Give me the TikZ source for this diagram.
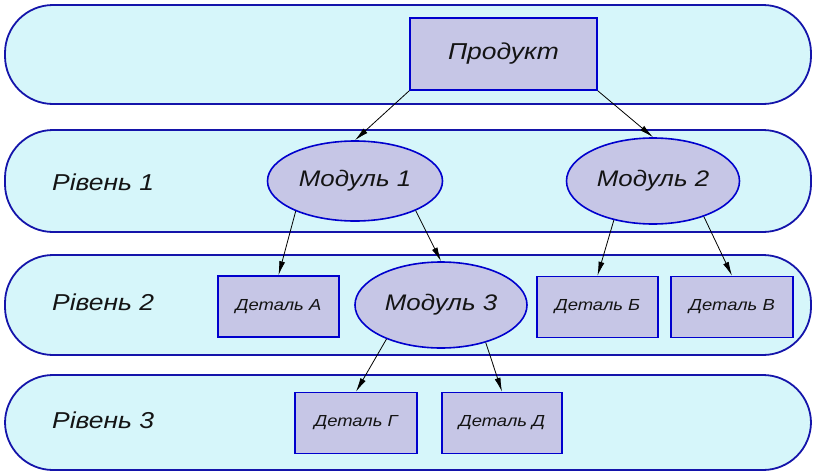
\documentclass[tikz,border=0pt]{standalone}
\usepackage{fontspec}
\setmainfont{Liberation Sans}[FakeStretch=1.15]
\usetikzlibrary{arrows.meta,shapes.geometric}
\definecolor{bandfill}{RGB}{214,246,250}
\definecolor{bandline}{RGB}{20,20,170}
\definecolor{nodefill}{RGB}{198,198,230}
\definecolor{nodeline}{RGB}{0,0,205}
\definecolor{txt}{RGB}{20,20,20}
\tikzset{
  band/.style={draw=bandline, fill=bandfill, line width=1.8pt, rounded corners=48pt},
  boxnode/.style={draw=nodeline, fill=nodefill, line width=1.6pt, rectangle, inner sep=0pt, text=txt, font=\itshape\fontsize{16}{18}\selectfont},
  modnode/.style={draw=nodeline, fill=nodefill, line width=1.6pt, ellipse, inner sep=0pt, text=txt, font=\itshape\fontsize{22.5}{26}\selectfont},
  levlabel/.style={anchor=west, inner sep=0pt, text=txt, font=\itshape\fontsize{23}{26}\selectfont},
  conn/.style={-{Latex[length=14pt,width=6pt]}, line width=0.8pt, black}
}
\begin{document}
\begin{tikzpicture}[x=1pt,y=-1pt]
\useasboundingbox (0,0) rectangle (815,474);
% bands
\draw[band] (5,5) rectangle (811,104);
\draw[band] (5,130) rectangle (811,232);
\draw[band] (5,255) rectangle (811,355);
\draw[band] (5,375) rectangle (811,470);
% level labels
\node[levlabel] (l1) at (52,182) {Рівень 1};
\node[levlabel] (l2) at (52,302) {Рівень 2};
\node[levlabel] (l3) at (52,420) {Рівень 3};
% nodes
\node[boxnode, minimum width=187pt, minimum height=72pt, font=\itshape\fontsize{23}{27}\selectfont] (p) at (503.5,54) {Продукт};
\node[modnode, minimum width=175pt, minimum height=80pt] (m1) at (355,181) {Модуль 1};
\node[modnode, minimum width=173pt, minimum height=86pt] (m2) at (653,181) {Модуль 2};
\node[modnode, minimum width=172pt, minimum height=86pt] (m3) at (441,305) {Модуль 3};
\node[boxnode, minimum width=121pt, minimum height=61pt] (da) at (278.5,306.5) {Деталь А};
\node[boxnode, minimum width=121pt, minimum height=61pt] (db) at (597.5,307) {Деталь Б};
\node[boxnode, minimum width=122pt, minimum height=61pt] (dv) at (732,307) {Деталь В};
\node[boxnode, minimum width=122pt, minimum height=61pt] (dg) at (356,423) {Деталь Г};
\node[boxnode, minimum width=120pt, minimum height=61pt] (dd) at (502,423) {Деталь Д};
% connectors
\draw[conn] (p.south west) -- (m1.north);
\draw[conn] (p.south east) -- (m2.north);
\draw[conn] (m1.207) -- (da.north);
\draw[conn] (m1.334) -- (m3.north);
\draw[conn] (m2.225) -- (db.north);
\draw[conn] (m2.325) -- (dv.north);
\draw[conn] (m3.212) -- (dg.north);
\draw[conn] (m3.320) -- (dd.north);
\end{tikzpicture}
\end{document}
